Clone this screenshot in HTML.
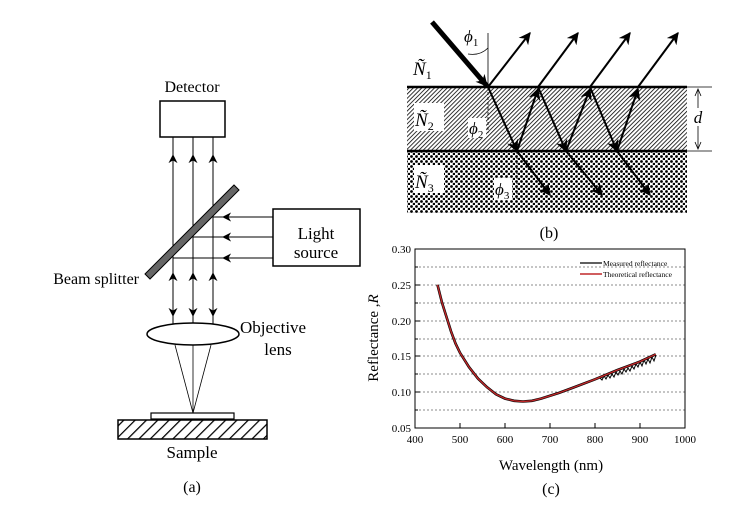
<!DOCTYPE html>
<html><head><meta charset="utf-8"><style>
html,body{margin:0;padding:0;background:#fff;}
svg, svg text{font-family:"Liberation Serif","Times New Roman",serif;}
</style></head><body>
<svg width="755" height="518" viewBox="0 0 755 518" xmlns="http://www.w3.org/2000/svg" font-family="Liberation Serif, Times New Roman, serif">
<defs>
<marker id="ah" viewBox="0 0 10 10" refX="9" refY="5" markerWidth="9" markerHeight="9" orient="auto" markerUnits="userSpaceOnUse"><path d="M0,0 L10,5 L0,10 L3,5 z" fill="#000"/></marker>
<marker id="ah2" viewBox="0 0 10 10" refX="9" refY="5" markerWidth="12" markerHeight="12" orient="auto" markerUnits="userSpaceOnUse"><path d="M0,0 L10,5 L0,10 L3,5 z" fill="#000"/></marker>
<pattern id="hatchA" width="8" height="8" patternUnits="userSpaceOnUse" patternTransform="rotate(45)"><rect width="8" height="8" fill="#fff"/><line x1="0" y1="0" x2="0" y2="8" stroke="#000" stroke-width="2.5"/></pattern>
<pattern id="hatchB" width="3" height="3" patternUnits="userSpaceOnUse" patternTransform="rotate(45)"><rect width="3" height="3" fill="#fff"/><line x1="0" y1="0" x2="0" y2="3" stroke="#000" stroke-width="1.6"/></pattern>
<pattern id="dots" width="5" height="5" patternUnits="userSpaceOnUse"><rect width="5" height="5" fill="#fff"/><circle cx="1.5" cy="1.5" r="1.4" fill="#000"/><circle cx="4" cy="4" r="1.3" fill="#000"/></pattern>
</defs>

<!-- Panel (a) -->
<text x="192" y="92" font-size="16" text-anchor="middle">Detector</text>
<rect x="160" y="101" width="65" height="36" fill="#fff" stroke="#000" stroke-width="1.5"/>
<g stroke="#000" stroke-width="1">
<line x1="173" y1="137" x2="173" y2="325"/><line x1="193" y1="137" x2="193" y2="325"/><line x1="213" y1="137" x2="213" y2="325"/>
</g>
<g stroke="#000" stroke-width="1" fill="none">
<line x1="173" y1="175" x2="173" y2="155" marker-end="url(#ah)"/>
<line x1="193" y1="175" x2="193" y2="155" marker-end="url(#ah)"/>
<line x1="213" y1="175" x2="213" y2="155" marker-end="url(#ah)"/>
<line x1="173" y1="290" x2="173" y2="273" marker-end="url(#ah)"/>
<line x1="193" y1="290" x2="193" y2="273" marker-end="url(#ah)"/>
<line x1="213" y1="290" x2="213" y2="273" marker-end="url(#ah)"/>
<line x1="173" y1="298" x2="173" y2="316" marker-end="url(#ah)"/>
<line x1="193" y1="298" x2="193" y2="316" marker-end="url(#ah)"/>
<line x1="213" y1="298" x2="213" y2="316" marker-end="url(#ah)"/>
<line x1="273" y1="217" x2="213" y2="217"/>
<line x1="273" y1="237" x2="193" y2="237"/>
<line x1="273" y1="258" x2="173" y2="258"/>
<line x1="250" y1="217" x2="223" y2="217" marker-end="url(#ah)"/>
<line x1="250" y1="237" x2="223" y2="237" marker-end="url(#ah)"/>
<line x1="250" y1="258" x2="223" y2="258" marker-end="url(#ah)"/>
</g>
<polygon points="145,274 234,185 239,190 150,279" fill="#666" stroke="#000" stroke-width="1"/>
<rect x="273" y="209" width="87" height="57" fill="#fff" stroke="#000" stroke-width="1.5"/>
<text x="316" y="239" font-size="17" text-anchor="middle">Light</text>
<text x="316" y="258" font-size="17" text-anchor="middle">source</text>
<text x="139" y="284" font-size="16" text-anchor="end">Beam splitter</text>
<ellipse cx="193" cy="334" rx="46" ry="11" fill="#fff" stroke="#000" stroke-width="1.5"/>
<text x="240" y="333" font-size="17">Objective</text>
<text x="278" y="355" font-size="17" text-anchor="middle">lens</text>
<g stroke="#000" stroke-width="0.8"><line x1="175" y1="345" x2="193" y2="413"/><line x1="193" y1="345" x2="193" y2="413"/><line x1="211" y1="345" x2="193" y2="413"/></g>
<rect x="151" y="413" width="83" height="6" fill="#fff" stroke="#000" stroke-width="1.2"/>
<rect x="118" y="420" width="149" height="19" fill="url(#hatchA)" stroke="#000" stroke-width="1.5"/>
<text x="192" y="458" font-size="17" text-anchor="middle">Sample</text>
<text x="192" y="492" font-size="16" text-anchor="middle">(a)</text>

<!-- Panel (b) -->
<rect x="407" y="87" width="280" height="64" fill="url(#hatchB)"/>
<rect x="407" y="151" width="280" height="62" fill="url(#dots)"/>
<line x1="407" y1="87" x2="687" y2="87" stroke="#000" stroke-width="2.5"/>
<line x1="407" y1="151" x2="687" y2="151" stroke="#000" stroke-width="2.5"/>
<line x1="687" y1="87" x2="712" y2="87" stroke="#000" stroke-width="0.8"/>
<line x1="687" y1="151" x2="712" y2="151" stroke="#000" stroke-width="0.8"/>
<line x1="698" y1="90" x2="698" y2="148" stroke="#000" stroke-width="0.8"/>
<path d="M695,96 L698,89 L701,96 M695,142 L698,149 L701,142" stroke="#000" fill="none" stroke-width="0.8"/>
<rect x="692" y="108" width="12" height="18" fill="#fff"/>
<text x="698" y="123" font-size="17" font-style="italic" text-anchor="middle">d</text>
<line x1="488" y1="33" x2="488" y2="87" stroke="#000" stroke-width="0.8"/>
<line x1="488" y1="87" x2="488" y2="133" stroke="#000" stroke-width="0.8" stroke-dasharray="3,2"/>
<line x1="517" y1="151" x2="517" y2="200" stroke="#000" stroke-width="0.8" stroke-dasharray="3,2"/>
<path d="M488,48 Q480,56 468,54" stroke="#000" fill="none" stroke-width="0.8"/>
<line x1="432" y1="22" x2="487" y2="86" stroke="#000" stroke-width="5" marker-end="url(#ah2)"/>
<g stroke="#000" stroke-width="2" fill="none" marker-end="url(#ah2)">
<line x1="488" y1="87" x2="530" y2="33"/>
<line x1="538" y1="87" x2="578" y2="33"/>
<line x1="590" y1="87" x2="630" y2="33"/>
<line x1="638" y1="87" x2="678" y2="33"/>
<line x1="488" y1="87" x2="517" y2="151"/>
<line x1="517" y1="151" x2="538" y2="89"/>
<line x1="538" y1="87" x2="566" y2="151"/>
<line x1="566" y1="151" x2="590" y2="89"/>
<line x1="590" y1="87" x2="617" y2="151"/>
<line x1="617" y1="151" x2="638" y2="89"/>
<line x1="517" y1="151" x2="550" y2="195"/>
<line x1="566" y1="151" x2="602" y2="195"/>
<line x1="617" y1="151" x2="650" y2="195"/>
</g>
<text x="413" y="75" font-size="19" font-style="italic">Ñ<tspan font-size="12" dy="4" font-style="normal">1</tspan></text>
<rect x="414" y="103" width="30" height="28" fill="#fff"/>
<text x="415" y="126" font-size="19" font-style="italic">Ñ<tspan font-size="12" dy="4" font-style="normal">2</tspan></text>
<rect x="414" y="165" width="30" height="28" fill="#fff"/>
<text x="415" y="188" font-size="19" font-style="italic">Ñ<tspan font-size="12" dy="4" font-style="normal">3</tspan></text>
<text x="464" y="42" font-size="17" font-style="italic">ϕ<tspan font-size="11" dy="4" font-style="normal">1</tspan></text>
<rect x="468" y="118" width="18" height="20" fill="#fff"/>
<text x="469" y="134" font-size="17" font-style="italic">ϕ<tspan font-size="11" dy="4" font-style="normal">2</tspan></text>
<rect x="494" y="178" width="18" height="22" fill="#fff"/>
<text x="495" y="195" font-size="17" font-style="italic">ϕ<tspan font-size="11" dy="4" font-style="normal">3</tspan></text>
<text x="549" y="238" font-size="16" text-anchor="middle">(b)</text>

<!-- Panel (c) -->
<g stroke="#666" stroke-width="0.7" stroke-dasharray="2,2">
<line x1="415" y1="267" x2="685" y2="267"/><line x1="415" y1="285" x2="685" y2="285"/>
<line x1="415" y1="303" x2="685" y2="303"/><line x1="415" y1="321" x2="685" y2="321"/>
<line x1="415" y1="339" x2="685" y2="339"/><line x1="415" y1="356" x2="685" y2="356"/>
<line x1="415" y1="374" x2="685" y2="374"/><line x1="415" y1="392" x2="685" y2="392"/>
<line x1="415" y1="410" x2="685" y2="410"/>
</g>
<rect x="415" y="249" width="270" height="179" fill="none" stroke="#000" stroke-width="1"/>
<g stroke="#000" stroke-width="1">
<line x1="415" y1="267" x2="418" y2="267"/><line x1="415" y1="285" x2="420" y2="285"/><line x1="415" y1="303" x2="418" y2="303"/><line x1="415" y1="321" x2="420" y2="321"/><line x1="415" y1="339" x2="418" y2="339"/><line x1="415" y1="356" x2="420" y2="356"/><line x1="415" y1="374" x2="418" y2="374"/><line x1="415" y1="392" x2="420" y2="392"/><line x1="415" y1="410" x2="418" y2="410"/>
<line x1="460" y1="428" x2="460" y2="423"/><line x1="505" y1="428" x2="505" y2="423"/><line x1="550" y1="428" x2="550" y2="423"/><line x1="595" y1="428" x2="595" y2="423"/><line x1="640" y1="428" x2="640" y2="423"/>
</g>
<g font-size="11" text-anchor="end">
<text x="411" y="253">0.30</text><text x="411" y="289">0.25</text><text x="411" y="325">0.20</text><text x="411" y="360">0.15</text><text x="411" y="396">0.10</text><text x="411" y="432">0.05</text>
</g>
<g font-size="11" text-anchor="middle">
<text x="415" y="443">400</text><text x="460" y="443">500</text><text x="505" y="443">600</text><text x="550" y="443">700</text><text x="595" y="443">800</text><text x="640" y="443">900</text><text x="685" y="443">1000</text>
</g>
<text x="551" y="470" font-size="15" text-anchor="middle">Wavelength (nm)</text>
<text x="551" y="494" font-size="16" text-anchor="middle">(c)</text>
<text transform="translate(378,338) rotate(-90)" font-size="15" text-anchor="middle">Reflectance ,<tspan font-style="italic">R</tspan></text>
<polyline fill="none" stroke="#000" stroke-width="2.6" points="437.5,284.8 442,302.7 446.5,317 451,331.3 455.5,343.5 460,352.8 469,367.1 478,378.6 487,387.2 496,394.3 505,398.6 514,400.8 523,401.5 532,400.8 541,398.6 550,395.8 559,392.9 572.5,387.9 595,379.3 617.5,370 640,361.6 655.75,354.3"/>
<polyline fill="none" stroke="#000" stroke-width="1" points="600,378 602,380 604,376 606,379 608,375 610,378 612,374 614,377 616,372 618,375 620,371 622,374 624,369 626,372 628,368 630,371 632,366 634,369 636,364 638,367 640,362 642,366 644,360 646,364 648,359 650,363 652,357 654,361 656,355"/>
<polyline fill="none" stroke="#c0282a" stroke-width="1.4" points="437.5,284.8 442,302.7 446.5,317 451,331.3 455.5,343.5 460,352.8 469,367.1 478,378.6 487,387.2 496,394.3 505,398.6 514,400.8 523,401.5 532,400.8 541,398.6 550,395.8 559,392.9 572.5,387.9 595,379.3 617.5,370 640,361.6 655.75,354.3"/>
<line x1="580" y1="263" x2="602" y2="263" stroke="#000" stroke-width="1.2"/>
<line x1="580" y1="274" x2="602" y2="274" stroke="#c0282a" stroke-width="1.4"/>
<text x="603" y="266" font-size="7.5">Measured reflectance</text>
<text x="603" y="277" font-size="7.5">Theoretical reflectance</text>
</svg>
</body></html>
